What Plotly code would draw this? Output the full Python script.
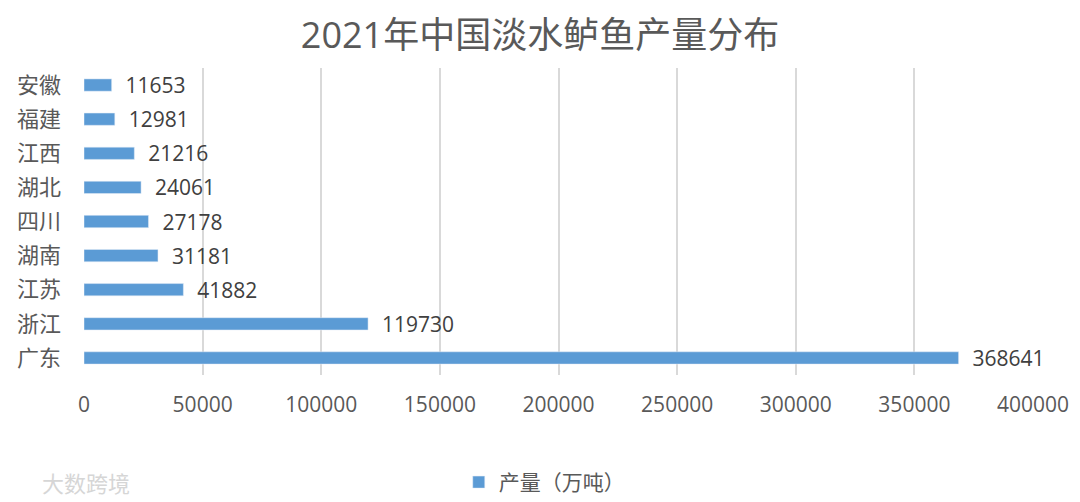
import plotly.graph_objects as go

provinces = ["广东", "浙江", "江苏", "湖南", "四川", "湖北", "江西", "福建", "安徽"]
values = [368641, 119730, 41882, 31181, 27178, 24061, 21216, 12981, 11653]
x_ticks = [0, 50000, 100000, 150000, 200000, 250000, 300000, 350000, 400000]
series_name = "产量（万吨）"

fig = go.Figure()
fig.add_trace(go.Bar(
    y=provinces, x=values, orientation="h", name=series_name,
    marker=dict(color="#5B9BD5"),
    text=["  " + str(v) for v in values], textposition="outside",
    constraintext="none",
    textfont=dict(size=21, color="#404040", family="Open Sans, Noto Sans CJK SC"),
    cliponaxis=False, showlegend=True,
))

fig.update_layout(
    width=1080, height=502,
    paper_bgcolor="white", plot_bgcolor="white",
    margin=dict(l=76, r=55, t=60, b=135, autoexpand=False),
    title=dict(text="2021年中国淡水鲈鱼产量分布", x=0.4926, xanchor="center", y=0.946, yanchor="middle",
               font=dict(size=36, color="#595959", family="Open Sans, Noto Sans CJK SC")),
    bargap=0.64,
    xaxis=dict(range=[0, 400000], tickvals=x_ticks, ticktext=[str(t) for t in x_ticks],
               showgrid=True, gridcolor="#D9D9D9", gridwidth=1.5, zeroline=False,
               showline=False, ticks="", ticklabelstandoff=15, automargin=False,
               tickfont=dict(size=21, color="#595959", family="Open Sans, Noto Sans CJK SC")),
    yaxis=dict(showgrid=False, showline=False, ticks="", ticklabelstandoff=22, automargin=False,
               tickfont=dict(size=22, color="#595959", family="Noto Sans CJK SC")),
    legend=dict(orientation="h", x=0.485, xanchor="center", y=-0.35, yanchor="middle",
                itemwidth=30, font=dict(size=21, color="#595959", family="Noto Sans CJK SC")),
    font=dict(family="Noto Sans CJK SC"),
)
fig.add_annotation(text="大数跨境", xref="paper", yref="paper", x=-0.046, y=-0.35,
                   xanchor="left", yanchor="middle", showarrow=False,
                   font=dict(size=22, color="#D6D6D6", family="Noto Sans CJK SC"))
fig.write_html("out.html")
